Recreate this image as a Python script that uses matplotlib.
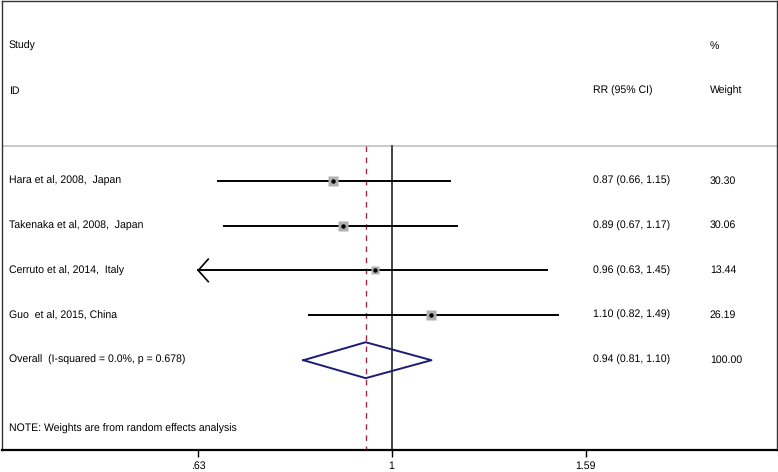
import numpy as np
import matplotlib
matplotlib.use("Agg")
import matplotlib.pyplot as plt

plt.rcParams['font.family'] = ['Liberation Sans', 'DejaVu Sans']
plt.rcParams['text.hinting'] = 'none'

studies = ["Hara et al, 2008,  Japan", "Takenaka et al, 2008,  Japan",
           "Cerruto et al, 2014,  Italy", "Guo  et al, 2015, China"]
rr = [0.87, 0.89, 0.96, 1.10]
lo = [0.66, 0.67, 0.63, 0.82]
hi = [1.15, 1.17, 1.45, 1.49]
weight = [30.30, 30.06, 13.44, 26.19]

overall_label = "Overall  (I-squared = 0.0%, p = 0.678)"
overall = [0.94, 0.81, 1.10]
overall_weight = 100.00

xticks = [0.63, 1, 1.59]
xticklabels = [".63", "1", "1.59"]

fig = plt.figure(figsize=(7.78, 4.72), dpi=100)
ax = fig.add_axes([2 / 778, 22 / 472, 775 / 778, 449 / 472])

# x range of the whole frame (log scale), y in row units
xmin, xmax = np.exp(-0.931), np.exp(0.921)
ax.set_xscale("log")
ax.set_xlim(xmin, xmax)
ax.set_ylim(7.0, -3.0)

fs = 7.6
tr = ax.get_yaxis_transform()  # x in axes fraction, y in data

# header
ax.text(0.009, -2, "Study", transform=tr, va="center", fontsize=fs)
ax.text(0.009, -1, "ID", transform=tr, va="center", fontsize=fs)
ax.text(0.7626, -1, "RR (95% CI)", transform=tr, va="center", fontsize=fs)
ax.text(0.9135, -2, "%", transform=tr, va="center", fontsize=fs)
ax.text(0.9135, -1, "Weight", transform=tr, va="center", fontsize=fs)
ax.axhline(0.24, color="#c0c0c0", lw=1.2)

# reference lines
ax.plot([1, 1], [0.24, 7.0], color="#444444", lw=1.4, zorder=2)
ax.plot([overall[0], overall[0]], [0.24, 7.0], color="#9a2a45", lw=1.0,
        ls=(0, (4, 4)), zorder=2)

tick_lo = xticks[0]
for i, (name, m, l, h, w) in enumerate(zip(studies, rr, lo, hi, weight)):
    y = i + 1
    left = max(l, tick_lo)
    ax.plot([left, h], [y, y], color="black", lw=1.4, zorder=3)
    if l <= tick_lo:
        ax.plot([left * np.exp(10 / 419), left, left * np.exp(10 / 419)],
                [y - 0.25, y, y + 0.25], color="black", lw=1.2, zorder=3)
    ax.plot(m, y, marker="s", ms=7.8 * np.sqrt(w / 30.3), color="#b0b0b0",
            mec="none", zorder=4)
    ax.plot(m, y, marker="o", ms=2.2, color="black", zorder=5)
    ax.text(0.009, y, name, transform=tr, va="center", fontsize=fs)
    ax.text(0.7626, y, "%.2f (%.2f, %.2f)" % (m, l, h), transform=tr,
            va="center", fontsize=fs)
    ax.text(0.9135, y, "%.2f" % w, transform=tr, va="center", fontsize=fs)

# overall diamond
yo = len(studies) + 1
om, ol, oh = overall
ax.plot([ol, om, oh, om, ol], [yo, yo - 0.4, yo, yo + 0.4, yo],
        color="#1c1c78", lw=1.4, zorder=4)
ax.text(0.009, yo, overall_label, transform=tr, va="center", fontsize=fs)
ax.text(0.7626, yo, "%.2f (%.2f, %.2f)" % (om, ol, oh), transform=tr,
        va="center", fontsize=fs)
ax.text(0.9135, yo, "%.2f" % overall_weight, transform=tr, va="center",
        fontsize=fs)

ax.text(0.009, 6.53, "NOTE: Weights are from random effects analysis",
        transform=tr, va="center", fontsize=fs)

# axes styling
ax.set_xticks(xticks)
ax.set_xticklabels(xticklabels, fontsize=fs)
ax.xaxis.set_minor_locator(matplotlib.ticker.NullLocator())
ax.tick_params(axis="x", length=5, width=1, pad=3, direction="out")
ax.set_yticks([])
for side in ["left", "right", "top"]:
    ax.spines[side].set_linewidth(1.0)
    ax.spines[side].set_color("#333333")
ax.spines["bottom"].set_linewidth(1.6)

fig.savefig("out.png", dpi=100)
